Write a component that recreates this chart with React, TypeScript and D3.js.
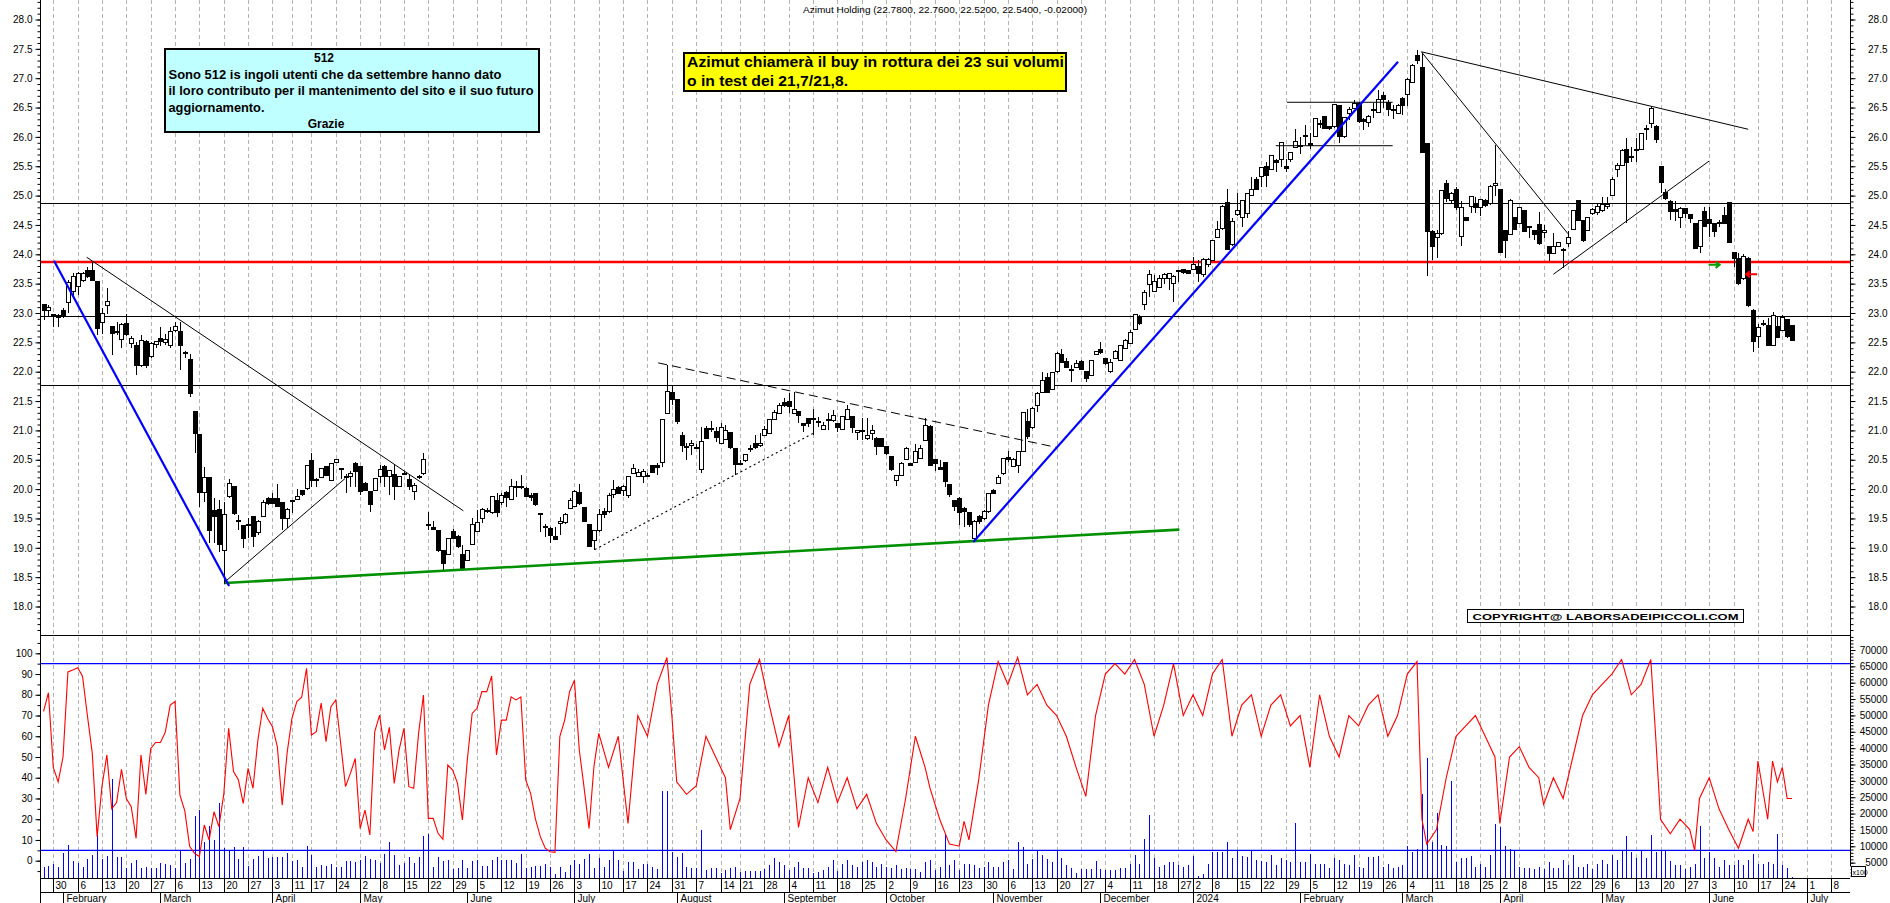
import React, { useRef, useEffect } from 'react';
import * as d3 from 'd3';

const WIDTH = 1890;
const HEIGHT = 903;
const FONT = '"Liberation Sans", Arial, Helvetica, sans-serif';

// trading calendar (Borsa Italiana)
const FIRST_DAY = '2023-01-26';
const FIRST_INDEX = -2; // day index of FIRST_DAY, 30 Jan 2023 = 0
const HOLIDAYS = ['2023-04-07', '2023-04-10', '2023-05-01', '2023-08-15', '2023-12-25', '2023-12-26', '2024-01-01', '2024-03-29', '2024-04-01', '2024-05-01'];
const MONTHS = ['January', 'February', 'March', 'April', 'May', 'June', 'July', 'August', 'September', 'October', 'November', 'December'];

const TITLE = 'Azimut Holding (22.7800, 22.7600, 22.5200, 22.5400, -0.02000)';
const NOTE_TITLE = '512';
const NOTE_LINES = ['Sono 512 is ingoli utenti che da settembre hanno dato', 'il loro contributo per il mantenimento del sito e il suo futuro', 'aggiornamento.'];
const NOTE_SIGN = 'Grazie';
const CALL_LINES = ['Azimut chiamerà il buy in rottura dei 23 sui volumi', 'o in test dei 21,7/21,8.'];
const COPYRIGHT = 'COPYRIGHT@ LABORSADEIPICCOLI.COM';

// daily candles from 26 Jan 2023 to 26 Jun 2024
const OPEN = [
  23.14, 23.04, 22.97, 22.96, 23.04, 23.18, 23.36, 23.45, 23.55, 23.72,
  23.73, 23.53, 22.83, 23.12, 22.77, 22.69, 22.55, 22.82, 22.48, 22.45,
  22.11, 22.51, 22.26, 22.47, 22.56, 22.49, 22.45, 22.71, 22.69, 22.33,
  22.20, 21.33, 20.93, 19.94, 20.19, 19.64, 19.65, 18.96, 19.88, 20.04,
  19.47, 19.38, 19.39, 19.53, 19.26, 19.54, 19.84, 19.84, 19.84, 19.77,
  19.50, 19.80, 19.83, 19.97, 20.01, 20.48, 20.17, 20.20, 20.38, 20.14,
  20.45, 20.35, 20.22, 20.21, 20.44, 20.38, 20.10, 19.96, 19.97, 20.22,
  20.38, 20.22, 20.25, 20.04, 20.27, 20.17, 19.96, 20.21, 20.27, 19.39,
  19.35, 19.30, 18.95, 18.89, 19.28, 19.19, 18.88, 18.79, 19.06, 19.28,
  19.50, 19.64, 19.60, 19.81, 19.78, 19.94, 19.83, 20.04, 20.04, 20.01,
  19.89, 19.93, 19.59, 19.37, 19.33, 19.20, 19.41, 19.43, 19.67, 19.70,
  19.94, 19.68, 19.39, 19.12, 19.30, 19.61, 19.62, 19.90, 20.02, 19.97,
  19.89, 20.27, 20.22, 20.22, 20.24, 20.41, 20.41, 20.45, 21.29, 21.65,
  21.53, 20.92, 20.73, 20.74, 20.71, 20.34, 21.04, 21.03, 20.98, 20.77,
  20.84, 20.96, 20.69, 20.44, 20.48, 20.67, 20.78, 20.74, 20.92, 20.95,
  21.19, 21.29, 21.47, 21.49, 21.29, 21.33, 21.11, 21.21, 21.21, 21.15,
  21.02, 21.18, 21.17, 21.11, 21.02, 21.19, 21.23, 20.96, 20.99, 20.87,
  20.94, 20.87, 20.87, 20.72, 20.56, 20.14, 20.24, 20.51, 20.43, 20.46,
  20.52, 20.83, 21.06, 20.50, 20.37, 20.46, 20.07, 19.81, 19.84, 19.67,
  19.60, 19.16, 19.54, 19.50, 19.61, 19.98, 20.10, 20.27, 20.54, 20.39,
  20.41, 20.64, 21.15, 21.05, 21.43, 21.64, 21.90, 21.70, 22.00, 22.30,
  22.17, 22.04, 22.08, 22.18, 22.00, 21.94, 22.30, 22.37, 22.23, 22.01,
  22.23, 22.19, 22.40, 22.48, 22.72, 22.93, 23.14, 23.49, 23.36, 23.43,
  23.59, 23.59, 23.50, 23.72, 23.74, 23.73, 23.74, 23.79, 23.65, 23.83,
  23.90, 24.29, 24.44, 24.88, 24.17, 24.67, 24.63, 24.70, 25.01, 25.27,
  25.32, 25.49, 25.45, 25.59, 25.62, 25.49, 25.62, 25.82, 25.86, 26.03,
  25.89, 26.01, 26.23, 26.34, 26.17, 26.17, 26.53, 26.00, 26.40, 26.49,
  26.57, 26.29, 26.25, 26.47, 26.41, 26.71, 26.58, 26.46, 26.40, 26.66,
  26.73, 26.93, 27.39, 27.18, 25.89, 24.39, 24.29, 24.35, 25.21, 24.91,
  25.11, 24.30, 24.63, 24.82, 24.86, 24.80, 24.91, 24.87, 25.18, 25.11,
  24.40, 24.33, 24.63, 24.53, 24.75, 24.45, 24.40, 24.50, 24.37, 24.14,
  24.02, 24.14, 24.09, 24.19, 24.42, 24.92, 24.58, 24.41, 24.69, 24.72,
  24.75, 24.82, 25.01, 25.45, 25.52, 25.79, 25.65, 25.79, 25.79, 26.14,
  26.22, 26.17, 25.49, 25.05, 24.90, 24.76, 24.63, 24.78, 24.67, 24.52,
  24.13, 24.73, 24.59, 24.52, 24.54, 24.66, 24.88, 24.03, 23.93, 23.59,
  23.93, 23.05, 22.60, 22.82, 22.79, 22.45, 22.77, 22.71, 22.89, 22.78,
];
const HIGH = [
  23.16, 23.14, 22.98, 22.99, 23.08, 23.56, 23.68, 23.70, 23.70, 23.79,
  23.87, 23.53, 23.08, 23.42, 22.77, 22.85, 22.83, 22.98, 22.60, 22.51,
  22.62, 22.54, 22.50, 22.53, 22.77, 22.65, 22.77, 22.84, 22.85, 22.36,
  22.30, 21.33, 20.93, 20.38, 20.19, 19.84, 19.81, 19.78, 20.18, 20.04,
  19.56, 19.39, 19.50, 19.53, 19.47, 19.81, 19.87, 19.93, 20.08, 19.77,
  19.67, 19.81, 20.01, 19.98, 20.40, 20.62, 20.19, 20.36, 20.40, 20.43,
  20.52, 20.36, 20.25, 20.30, 20.46, 20.38, 20.12, 19.96, 20.18, 20.41,
  20.41, 20.33, 20.41, 20.21, 20.30, 20.24, 20.10, 20.24, 20.61, 19.61,
  19.45, 19.30, 18.96, 19.16, 19.32, 19.22, 19.05, 18.96, 19.50, 19.64,
  19.67, 19.67, 19.88, 19.93, 19.93, 19.96, 20.18, 20.13, 20.24, 20.04,
  19.93, 19.94, 19.60, 19.41, 19.36, 19.36, 19.53, 19.59, 19.84, 19.99,
  20.08, 19.70, 19.41, 19.31, 19.66, 19.67, 19.93, 20.15, 20.05, 20.07,
  20.22, 20.43, 20.35, 20.35, 20.28, 20.41, 20.44, 21.20, 22.11, 21.78,
  21.53, 20.98, 20.78, 20.84, 20.76, 21.06, 21.07, 21.16, 21.05, 21.13,
  21.09, 20.96, 20.69, 20.50, 20.60, 20.75, 20.93, 20.95, 21.08, 21.19,
  21.35, 21.47, 21.56, 21.64, 21.66, 21.33, 21.11, 21.21, 21.36, 21.23,
  21.15, 21.29, 21.35, 21.11, 21.23, 21.43, 21.23, 21.00, 21.21, 21.21,
  21.09, 20.88, 20.87, 20.72, 20.56, 20.24, 20.47, 20.72, 20.45, 20.77,
  20.75, 21.21, 21.09, 20.52, 20.50, 20.47, 20.07, 19.81, 19.87, 19.70,
  19.60, 19.47, 19.56, 19.64, 19.94, 20.01, 20.24, 20.53, 20.65, 20.53,
  20.64, 21.31, 21.37, 21.40, 21.66, 22.00, 21.98, 22.00, 22.34, 22.39,
  22.23, 22.11, 22.20, 22.20, 22.00, 22.20, 22.35, 22.51, 22.23, 22.22,
  22.37, 22.45, 22.55, 22.71, 22.99, 22.96, 23.39, 23.73, 23.65, 23.65,
  23.68, 23.68, 23.65, 23.74, 23.75, 23.74, 23.96, 23.90, 23.93, 23.93,
  24.24, 24.56, 24.84, 25.12, 24.62, 25.05, 24.93, 25.04, 25.32, 25.32,
  25.49, 25.58, 25.69, 25.63, 25.92, 25.63, 25.75, 26.13, 26.00, 26.20,
  26.07, 26.33, 26.29, 26.35, 26.19, 26.56, 26.54, 26.34, 26.51, 26.63,
  26.60, 26.33, 26.37, 26.57, 26.80, 26.77, 26.63, 26.54, 26.56, 26.68,
  27.00, 27.25, 27.48, 27.43, 25.89, 24.42, 24.41, 25.10, 25.26, 25.06,
  25.15, 24.90, 24.64, 25.00, 24.98, 24.94, 24.95, 25.18, 25.86, 25.11,
  24.42, 24.94, 24.64, 24.81, 24.75, 24.49, 24.41, 24.72, 24.50, 24.14,
  24.36, 24.21, 24.10, 24.39, 24.75, 24.92, 24.59, 24.64, 24.79, 24.87,
  24.98, 24.98, 25.32, 25.55, 25.79, 25.98, 25.83, 25.98, 26.06, 26.20,
  26.53, 26.20, 25.49, 25.12, 24.93, 24.90, 24.80, 24.79, 24.68, 24.52,
  24.59, 24.81, 24.81, 24.52, 24.58, 24.81, 24.88, 24.04, 24.03, 24.00,
  23.95, 23.06, 22.82, 22.88, 22.91, 23.02, 22.93, 22.96, 22.90, 22.80,
];
const LOW = [
  22.88, 22.94, 22.77, 22.77, 22.91, 23.00, 23.28, 23.31, 23.53, 23.60,
  23.55, 22.63, 22.65, 22.99, 22.28, 22.63, 22.40, 22.60, 22.40, 21.94,
  22.08, 22.06, 22.23, 22.40, 22.43, 22.45, 22.40, 22.68, 22.03, 22.23,
  21.57, 20.61, 19.70, 19.78, 19.08, 19.08, 18.93, 18.39, 19.84, 19.56,
  19.30, 18.99, 19.16, 19.02, 19.22, 19.53, 19.73, 19.74, 19.70, 19.30,
  19.33, 19.59, 19.82, 19.88, 19.98, 20.04, 20.04, 20.19, 20.23, 20.14,
  20.44, 20.17, 19.93, 20.04, 20.04, 19.90, 19.96, 19.61, 19.96, 20.10,
  20.04, 19.90, 19.82, 20.04, 20.24, 19.98, 19.81, 20.18, 20.24, 19.30,
  19.31, 18.93, 18.62, 18.87, 19.15, 19.00, 18.62, 18.79, 19.06, 19.28,
  19.42, 19.60, 19.58, 19.53, 19.73, 19.70, 19.82, 19.87, 20.01, 19.87,
  19.79, 19.71, 19.27, 19.19, 19.09, 19.13, 19.22, 19.41, 19.66, 19.70,
  19.73, 19.45, 19.02, 18.97, 19.27, 19.50, 19.60, 19.84, 19.91, 19.88,
  19.84, 20.26, 20.21, 20.10, 20.21, 20.27, 20.24, 20.38, 21.29, 21.43,
  21.11, 20.64, 20.50, 20.58, 20.70, 20.28, 20.85, 20.98, 20.81, 20.77,
  20.84, 20.69, 20.24, 20.41, 20.47, 20.64, 20.69, 20.72, 20.92, 20.94,
  21.19, 21.28, 21.40, 21.30, 21.29, 21.12, 20.98, 21.06, 20.92, 21.06,
  21.01, 21.01, 21.15, 20.98, 21.01, 21.17, 20.95, 20.84, 20.83, 20.84,
  20.84, 20.58, 20.72, 20.58, 20.31, 20.05, 20.24, 20.50, 20.40, 20.46,
  20.52, 20.83, 20.41, 20.30, 20.33, 20.04, 19.87, 19.62, 19.39, 19.36,
  19.36, 19.10, 19.41, 19.48, 19.60, 19.92, 20.09, 20.24, 20.47, 20.38,
  20.27, 20.64, 20.86, 21.03, 21.32, 21.64, 21.64, 21.69, 21.97, 22.14,
  22.06, 21.83, 22.06, 22.04, 21.83, 21.93, 22.29, 22.31, 22.11, 21.97,
  22.23, 22.18, 22.38, 22.47, 22.71, 22.79, 23.05, 23.28, 23.35, 23.42,
  23.50, 23.40, 23.19, 23.53, 23.67, 23.66, 23.73, 23.52, 23.62, 23.79,
  23.89, 24.27, 24.41, 24.07, 24.14, 24.66, 24.47, 24.61, 25.00, 25.09,
  25.15, 25.14, 25.44, 25.41, 25.49, 25.41, 25.58, 25.81, 25.71, 25.86,
  25.79, 26.00, 26.15, 26.13, 26.12, 26.16, 25.89, 25.98, 26.29, 26.48,
  26.24, 26.11, 26.17, 26.32, 26.41, 26.49, 26.36, 26.30, 26.39, 26.37,
  26.53, 26.91, 27.25, 25.72, 23.63, 23.90, 23.93, 24.33, 24.89, 24.87,
  24.75, 24.14, 24.57, 24.70, 24.71, 24.65, 24.81, 24.84, 24.99, 24.02,
  23.93, 24.33, 24.42, 24.52, 24.38, 24.27, 24.24, 24.16, 24.27, 23.89,
  24.02, 24.13, 23.76, 24.13, 24.41, 24.57, 24.21, 24.39, 24.67, 24.67,
  24.72, 24.78, 24.99, 25.32, 25.51, 24.53, 25.58, 25.58, 25.78, 25.95,
  26.15, 25.90, 25.04, 24.92, 24.58, 24.56, 24.44, 24.61, 24.53, 24.10,
  24.02, 24.46, 24.30, 24.30, 24.47, 24.52, 24.19, 23.79, 23.48, 23.56,
  23.11, 22.34, 22.40, 22.78, 22.43, 22.44, 22.58, 22.70, 22.58, 22.52,
];
const CLOSE = [
  23.04, 23.10, 22.96, 22.93, 22.94, 23.52, 23.62, 23.68, 23.68, 23.62,
  23.55, 22.74, 23.00, 23.20, 22.65, 22.68, 22.81, 22.63, 22.56, 22.11,
  22.54, 22.11, 22.48, 22.51, 22.51, 22.55, 22.68, 22.77, 22.44, 22.32,
  21.63, 20.95, 19.94, 20.20, 19.30, 19.54, 19.05, 19.57, 20.10, 19.59,
  19.46, 19.16, 19.38, 19.20, 19.44, 19.78, 19.76, 19.76, 19.70, 19.50,
  19.65, 19.79, 19.88, 19.90, 20.40, 20.15, 20.16, 20.35, 20.24, 20.43,
  20.51, 20.35, 20.21, 20.27, 20.30, 19.96, 19.98, 19.73, 20.18, 20.33,
  20.22, 20.31, 20.04, 20.21, 20.27, 20.04, 20.06, 20.21, 20.51, 19.38,
  19.31, 18.96, 18.73, 19.16, 19.15, 19.02, 18.63, 18.96, 19.40, 19.43,
  19.65, 19.64, 19.88, 19.60, 19.89, 19.85, 20.05, 20.04, 20.04, 19.87,
  19.85, 19.73, 19.56, 19.37, 19.21, 19.14, 19.45, 19.57, 19.80, 19.96,
  19.76, 19.45, 19.03, 19.30, 19.57, 19.57, 19.89, 20.00, 19.93, 20.04,
  20.22, 20.35, 20.28, 20.30, 20.24, 20.28, 20.37, 21.19, 21.67, 21.52,
  21.16, 20.74, 20.72, 20.78, 20.71, 20.81, 20.87, 21.02, 20.88, 21.05,
  21.00, 20.71, 20.42, 20.44, 20.59, 20.70, 20.71, 20.78, 21.02, 21.19,
  21.30, 21.43, 21.43, 21.40, 21.36, 21.26, 21.08, 21.12, 21.18, 21.15,
  21.08, 21.18, 21.26, 21.05, 21.23, 21.36, 21.05, 20.99, 20.98, 20.92,
  20.99, 20.72, 20.72, 20.60, 20.34, 20.24, 20.44, 20.70, 20.41, 20.64,
  20.70, 21.08, 20.41, 20.44, 20.34, 20.13, 19.90, 19.70, 19.60, 19.61,
  19.39, 19.44, 19.44, 19.61, 19.93, 19.93, 20.20, 20.52, 20.50, 20.51,
  20.64, 21.30, 20.89, 21.37, 21.63, 21.85, 21.64, 21.98, 22.31, 22.15,
  22.08, 22.03, 22.14, 22.04, 21.89, 22.19, 22.34, 22.33, 22.14, 22.16,
  22.34, 22.45, 22.53, 22.67, 22.98, 22.82, 23.35, 23.66, 23.53, 23.59,
  23.66, 23.67, 23.63, 23.71, 23.69, 23.67, 23.82, 23.67, 23.91, 23.91,
  24.23, 24.42, 24.82, 24.09, 24.56, 24.75, 24.92, 25.03, 25.11, 25.10,
  25.48, 25.34, 25.68, 25.57, 25.90, 25.46, 25.73, 25.92, 25.83, 26.00,
  25.86, 26.32, 26.22, 26.15, 26.14, 26.55, 26.01, 26.33, 26.46, 26.57,
  26.26, 26.26, 26.34, 26.45, 26.63, 26.63, 26.46, 26.45, 26.54, 26.54,
  26.98, 27.21, 27.31, 25.73, 24.39, 24.13, 24.36, 25.09, 24.95, 25.04,
  24.80, 24.80, 24.58, 24.98, 24.79, 24.94, 24.83, 25.16, 25.21, 24.03,
  24.24, 24.92, 24.43, 24.80, 24.39, 24.48, 24.33, 24.19, 24.41, 24.02,
  24.14, 24.20, 24.06, 24.29, 24.75, 24.58, 24.23, 24.63, 24.77, 24.81,
  24.84, 24.85, 25.28, 25.52, 25.76, 25.56, 25.67, 25.76, 26.05, 26.12,
  26.49, 25.95, 25.22, 24.95, 24.73, 24.73, 24.78, 24.69, 24.61, 24.10,
  24.58, 24.47, 24.53, 24.39, 24.54, 24.53, 24.20, 23.93, 23.50, 23.96,
  23.12, 22.51, 22.76, 22.82, 22.44, 22.95, 22.59, 22.93, 22.60, 22.54,
];
// volume, in hundreds of shares
const VOLUME = [
  3780, 4090, 4600, 3780, 8070, 10400, 5600, 4800, 3780, 6140,
  7360, 13500, 6140, 7060, 30560, 6650, 6650, 3270, 5010, 5830,
  3480, 3780, 3270, 3270, 5010, 4500, 4190, 3480, 8900, 5010,
  6030, 19120, 21160, 11440, 16350, 11960, 23200, 9400, 8580, 9920,
  6240, 9710, 4090, 6240, 7160, 8900, 6440, 6850, 6750, 6650,
  8080, 5420, 5730, 3780, 10120, 7360, 3780, 4290, 4090, 4600,
  3580, 3780, 5520, 5520, 5220, 5830, 7060, 6140, 5830, 5010,
  7670, 11440, 7360, 4290, 5010, 6750, 5010, 6650, 13290, 13900,
  3780, 6650, 5420, 5730, 3070, 3270, 5730, 3480, 5420, 5730,
  3990, 4090, 5730, 6650, 5830, 5730, 5730, 5010, 7570, 3270,
  3780, 4090, 3990, 4700, 3580, 1430, 3780, 2250, 4290, 5830,
  4600, 6240, 7570, 3270, 6340, 3780, 5830, 8690, 5830, 2560,
  5320, 5320, 3070, 4600, 4700, 3580, 2970, 26790, 27000, 8380,
  6850, 8080, 3580, 3270, 3270, 15030, 2760, 3270, 3270, 1940,
  2760, 3270, 3780, 2250, 2450, 2560, 2450, 2450, 3000, 4190,
  6340, 5220, 4190, 2760, 3580, 5320, 3270, 3270, 1940, 2250,
  2760, 3680, 5730, 2560, 4600, 5830, 4400, 3580, 5320, 5830,
  5320, 3580, 4600, 3580, 3270, 4190, 2970, 3270, 2970, 2970,
  2250, 5320, 5830, 2760, 3580, 13800, 4400, 5730, 2760, 4500,
  4500, 4300, 3270, 3580, 5320, 3580, 3580, 5320, 5830, 2970,
  11230, 9900, 4600, 6140, 8490, 7260, 6140, 5220, 9000, 6340,
  4400, 3270, 1940, 2970, 2970, 2970, 5630, 2970, 2760, 2760,
  2760, 3270, 3270, 4500, 7260, 4600, 12170, 19630, 6340, 3580,
  4190, 5320, 5320, 4190, 3580, 4400, 7160, 1000, 1500, 4600,
  8380, 8380, 8380, 11430, 6540, 9000, 7160, 6850, 8690, 5730,
  5630, 5320, 7260, 4400, 6340, 5830, 5320, 17270, 5320, 5320,
  7670, 4500, 4700, 4700, 3270, 6340, 5830, 4700, 4190, 7260,
  3580, 3270, 6650, 6650, 7160, 3580, 4700, 3270, 3580, 4400,
  10240, 8180, 9200, 26000, 37000, 11230, 20140, 10430, 10120, 30000,
  5320, 6340, 6340, 7160, 3580, 4500, 3580, 7260, 16870, 16000,
  10240, 9200, 8490, 3580, 3270, 3270, 2970, 3580, 2970, 5320,
  3270, 3270, 5830, 4190, 7260, 3580, 3580, 4700, 2970, 4600,
  5730, 4500, 7260, 5830, 8690, 13190, 8180, 6340, 8900, 6340,
  13490, 8180, 8490, 8490, 5630, 4400, 4190, 2970, 3580, 4500,
  16260, 6340, 8180, 6340, 3580, 5830, 4400, 4400, 5830, 4400,
  5830, 7670, 4700, 4700, 5320, 4700, 13800, 4400, 3270, 510,
];
// oscillator: [day index, value]
const OSCILLATOR: [number, number][] = [
  [-2, 72], [-1, 81], [0, 45], [1, 38], [2, 50], [3, 91], [4, 92], [5, 93], [6, 89], [7, 70],
  [8, 52], [9, 11.6], [10, 36], [11, 51], [12, 25], [13, 28], [14, 44], [15, 30], [16, 26], [17, 10.8],
  [18, 51], [19, 32], [20, 54], [21, 57], [22, 57], [23, 62], [24, 75], [25, 76.7], [26, 31.6], [27, 24],
  [28, 6.8], [29, 3.5], [30, 2], [31, 17.2], [32, 10], [33, 23.6], [34, 16.4], [35, 32], [36, 63.8], [37, 43],
  [38, 39], [39, 27.6], [40, 44.5], [41, 34.9], [42, 58], [43, 73.5], [44, 68.6], [45, 64.6], [46, 55], [47, 26.8],
  [48, 51.8], [49, 68.6], [50, 76.7], [51, 78.8], [52, 92.7], [53, 60.6], [54, 62.2], [55, 76], [56, 57.4], [57, 74.3],
  [58, 77.5], [59, 56.6], [60, 35.7], [61, 42.1], [62, 49.3], [63, 15.6], [64, 24.4], [65, 12.4], [66, 62.2], [67, 70.2],
  [68, 53.4], [69, 64.3], [70, 37.3], [71, 53.4], [72, 63.8], [73, 35.7], [74, 34.9], [75, 61.4], [76, 79.9], [77, 20.4],
  [78, 20.4], [79, 13.2], [80, 10.3], [81, 46.1], [82, 43.7], [83, 37.3], [84, 19.6], [85, 48.5], [86, 71], [87, 73.5],
  [88, 81.5], [89, 81.5], [90, 89], [91, 51], [92, 67.8], [93, 67.8], [94, 79], [95, 77.5], [96, 79], [97, 39],
  [98, 32.5], [99, 20], [100, 11.6], [101, 6], [102, 4.3], [103, 4], [104, 59.8], [105, 67.8], [106, 81.5], [107, 87],
  [108, 53.4], [109, 34.9], [110, 15.6], [111, 45.3], [112, 61.4],
  [114, 45], [116, 60], [118, 18], [120, 70], [122, 60], [124, 85], [126, 98], [127, 70], [128, 38], [130, 32],
  [132, 36], [134, 60], [136, 50], [138, 40], [139, 15], [141, 30], [143, 85], [145, 97], [147, 75], [149, 55],
  [151, 70], [153, 16], [155, 40], [157, 28], [159, 45], [161, 28], [163, 40], [165, 25], [167, 32], [169, 18],
  [171, 10], [173, 4.4], [175, 30], [177, 60], [179, 45], [180, 35], [182, 20], [184, 8], [186, 7], [187, 19],
  [188, 10], [190, 39], [192, 75], [194, 96], [196, 85], [198, 98], [200, 80], [202, 85], [204, 75], [206, 70],
  [208, 60], [210, 45], [212, 31], [214, 70], [216, 90], [218, 95], [220, 90], [222, 97], [224, 85], [226, 60],
  [228, 75], [230, 95], [232, 70], [234, 80], [236, 70], [238, 90], [240, 97], [242, 60], [244, 75], [246, 80],
  [248, 60], [250, 75], [252, 80], [254, 65], [256, 70], [258, 45], [260, 80], [262, 60], [264, 50], [266, 70],
  [268, 65], [270, 75], [272, 80], [274, 60], [276, 70], [278, 90], [280, 96], [281, 20], [282, 8], [284, 15],
  [286, 40], [288, 60], [290, 65], [292, 70], [294, 60], [296, 50], [297, 18], [299, 50], [301, 55], [303, 45],
  [305, 40], [306, 27], [308, 40], [310, 30], [312, 50], [314, 70], [316, 80], [318, 85], [320, 90], [322, 97],
  [324, 80], [326, 85], [328, 97], [329, 60], [330, 20], [332, 13], [334, 20], [336, 15], [337, 5], [338, 30],
  [340, 40], [342, 25], [344, 15], [346, 6], [348, 20], [349, 14], [350, 48], [352, 20], [353, 48], [354, 38],
  [355, 45], [356, 30], [357, 30],
];

// support / resistance levels
const RED_LEVEL = 23.87;
const BLACK_LEVELS = [24.88, 22.95, 21.77];
const OSC_LEVELS = [95, 5];

// drawn lines: [fromDay, fromPrice, toDay, toPrice]
const BLUE_LINES = [[0.14, 23.89, 36.1, 18.35], [188.9, 19.1, 276.1, 27.28]];
const GREEN_LINES = [[35.25, 18.4, 231.2, 19.31]];
const THIN_LINES = [
  [6.86, 23.95, 84.2, 19.63],
  [35.25, 18.42, 59.9, 20.18],
  [253.3, 26.59, 275, 26.59],
  [251, 25.85, 275, 25.85],
  [280.9, 27.45, 348, 26.13],
  [280.9, 27.45, 311, 24.35],
  [308, 23.66, 340, 25.59],
];
const DASHED_LINES = [[124.2, 22.15, 206, 20.71]];
const DOTTED_LINES = [[111.2, 18.97, 156, 20.95]];
const GREEN_ARROW = [341.1, 23.82];
const RED_ARROW = [348.6, 23.66];

function buildCalendar(count: number) {
  const out: Date[] = [];
  const d = new Date(FIRST_DAY + 'T12:00:00Z');
  while (out.length < count) {
    const wd = d.getUTCDay();
    const key = d.toISOString().slice(0, 10);
    if (wd > 0 && wd < 6 && HOLIDAYS.indexOf(key) < 0) out.push(new Date(d.getTime()));
    d.setUTCDate(d.getUTCDate() + 1);
  }
  return out;
}

const App: React.FC = () => {
  const svgRef = useRef<SVGSVGElement>(null);

  useEffect(() => {
    if (!svgRef.current) return;
    const svg = d3.select(svgRef.current);
    svg.selectAll('*').remove();

    const left = 40, right = 1850;
    const panelSplit = 635, oscBottom = 878, dayRowBottom = 892;

    const x = d3.scaleLinear().domain([-2.73, 368.9]).range([left, right]);
    const y = d3.scaleLinear().domain([18, 28]).range([606.5, 19.5]);
    const yo = d3.scaleLinear().domain([0, 100]).range([860.7, 653.3]);
    const yv = d3.scaleLinear().domain([0, 70000]).range([879, 650]);
    const px = (i: number) => Math.round(x(i)) + 0.5;

    svg.append('rect').attr('width', WIDTH).attr('height', HEIGHT).attr('fill', '#ffffff');

    // calendar ticks
    const cal = buildCalendar(380);
    const weekStarts: { i: number; d: Date }[] = [];
    const monthStarts: { i: number; d: Date }[] = [];
    cal.forEach((d, k) => {
      if (k === 0) return;
      const i = k + FIRST_INDEX;
      if (x(i) > right - 3) return;
      const prev = cal[k - 1];
      if (d.getUTCDay() <= prev.getUTCDay()) weekStarts.push({ i, d });
      if (d.getUTCMonth() !== prev.getUTCMonth()) monthStarts.push({ i, d });
    });

    // vertical dashed grid
    svg.append('g').selectAll('line').data(weekStarts).join('line')
      .attr('x1', d => px(d.i)).attr('x2', d => px(d.i))
      .attr('y1', 0).attr('y2', oscBottom)
      .attr('stroke', '#b4b4b4').attr('stroke-width', 1)
      .attr('stroke-dasharray', '4,3');

    // horizontal levels
    svg.append('g').selectAll('line').data(BLACK_LEVELS).join('line')
      .attr('x1', left).attr('x2', right)
      .attr('y1', d => Math.round(y(d)) + 0.5).attr('y2', d => Math.round(y(d)) + 0.5)
      .attr('stroke', '#000').attr('stroke-width', 1.2);
    svg.append('line')
      .attr('x1', left).attr('x2', right)
      .attr('y1', y(RED_LEVEL)).attr('y2', y(RED_LEVEL))
      .attr('stroke', '#ff0000').attr('stroke-width', 2.6);

    // candles
    const candles = svg.append('g').attr('shape-rendering', 'crispEdges');
    const idx = d3.range(OPEN.length);
    candles.selectAll('line').data(idx).join('line')
      .attr('x1', k => px(k + FIRST_INDEX)).attr('x2', k => px(k + FIRST_INDEX))
      .attr('y1', k => y(HIGH[k])).attr('y2', k => y(LOW[k]))
      .attr('stroke', '#000').attr('stroke-width', 1);
    candles.selectAll('rect').data(idx).join('rect')
      .attr('x', k => Math.round(x(k + FIRST_INDEX)) - 1.5)
      .attr('y', k => y(Math.max(OPEN[k], CLOSE[k])))
      .attr('width', 4)
      .attr('height', k => Math.max(1, Math.abs(y(OPEN[k]) - y(CLOSE[k]))))
      .attr('fill', k => (CLOSE[k] < OPEN[k] ? '#000' : '#fff'))
      .attr('stroke', '#000').attr('stroke-width', 1);

    // drawn trend lines
    const drawLines = (lines: number[][], color: string, width: number, dash?: string) => {
      const sel = svg.append('g').selectAll('line').data(lines).join('line')
        .attr('x1', d => x(d[0])).attr('y1', d => y(d[1]))
        .attr('x2', d => x(d[2])).attr('y2', d => y(d[3]))
        .attr('stroke', color).attr('stroke-width', width);
      if (dash) sel.attr('stroke-dasharray', dash);
    };
    drawLines(THIN_LINES, '#000', 1);
    drawLines(DASHED_LINES, '#000', 1, '9,5');
    drawLines(DOTTED_LINES, '#000', 1.1, '2,3');
    drawLines(GREEN_LINES, '#009000', 2.6);
    drawLines(BLUE_LINES, '#0000ff', 2.2);

    // small arrows
    const ga = [x(GREEN_ARROW[0]), y(GREEN_ARROW[1])];
    svg.append('path')
      .attr('d', `M${ga[0] - 6},${ga[1]} L${ga[0] + 4},${ga[1]} M${ga[0] + 1},${ga[1] - 3} L${ga[0] + 5},${ga[1]} L${ga[0] + 1},${ga[1] + 3}`)
      .attr('stroke', '#00a000').attr('stroke-width', 2).attr('fill', 'none');
    const ra = [x(RED_ARROW[0]), y(RED_ARROW[1])];
    svg.append('path')
      .attr('d', `M${ra[0] + 6},${ra[1]} L${ra[0] - 4},${ra[1]} M${ra[0] - 1},${ra[1] - 3} L${ra[0] - 5},${ra[1]} L${ra[0] - 1},${ra[1] + 3}`)
      .attr('stroke', '#ff0000').attr('stroke-width', 2).attr('fill', 'none');

    // lower panel: volume bars
    svg.append('g').attr('shape-rendering', 'crispEdges').selectAll('line').data(VOLUME).join('line')
      .attr('x1', (v, k) => px(k + FIRST_INDEX)).attr('x2', (v, k) => px(k + FIRST_INDEX))
      .attr('y1', yv(0)).attr('y2', v => yv(v))
      .attr('stroke', '#0000ff').attr('stroke-width', 1);
    svg.append('g').selectAll('line').data(OSC_LEVELS).join('line')
      .attr('x1', left).attr('x2', right)
      .attr('y1', d => yo(d)).attr('y2', d => yo(d))
      .attr('stroke', '#0000ff').attr('stroke-width', 1.3);
    svg.append('path')
      .datum(OSCILLATOR)
      .attr('d', d3.line<[number, number]>().x(d => x(d[0])).y(d => yo(d[1])))
      .attr('fill', 'none').attr('stroke', '#ff0000').attr('stroke-width', 1.1);

    // frame
    const frame = svg.append('g').attr('stroke', '#000').attr('stroke-width', 1).attr('shape-rendering', 'crispEdges');
    frame.append('line').attr('x1', left + 0.5).attr('x2', left + 0.5).attr('y1', 0).attr('y2', HEIGHT);
    frame.append('line').attr('x1', right + 0.5).attr('x2', right + 0.5).attr('y1', 0).attr('y2', 866);
    [panelSplit, oscBottom, dayRowBottom].forEach(v => {
      frame.append('line').attr('x1', left).attr('x2', right).attr('y1', v + 0.5).attr('y2', v + 0.5);
    });

    // axes
    const styleAxis = (g: d3.Selection<SVGGElement, unknown, null, undefined>) => {
      g.select('.domain').remove();
      g.attr('font-family', FONT).attr('font-size', 10);
      g.selectAll('line').attr('stroke', '#000');
      g.selectAll('text').attr('fill', '#000');
    };
    const priceMajor = d3.range(18, 28.01, 0.5);
    const priceMinor = d3.range(17.6, 28.34, 0.1).filter(v => y(v) > 1 && y(v) < panelSplit - 1);
    const oscMajor = d3.range(0, 100.1, 10);
    const oscMinor = d3.range(-5, 106, 5);
    const volMajor = d3.range(5000, 70001, 5000);
    const volMinor = d3.range(1000, 74001, 1000).filter(v => yv(v) > panelSplit + 1);

    const addAxis = (axis: d3.Axis<d3.NumberValue>, tx: number, anchorEnd: boolean, labelX?: number) => {
      const g = svg.append('g').attr('transform', `translate(${tx + 0.5},0)`).call(axis);
      styleAxis(g);
      if (labelX !== undefined) g.selectAll('text').attr('x', labelX).attr('text-anchor', anchorEnd ? 'end' : 'start');
      return g;
    };
    addAxis(d3.axisLeft(y).tickValues(priceMinor).tickSize(3).tickFormat(() => ''), left, true);
    addAxis(d3.axisLeft(y).tickValues(priceMajor).tickSize(5).tickPadding(3).tickFormat(d3.format('.1f')), left, true);
    addAxis(d3.axisRight(y).tickValues(priceMinor).tickSize(3).tickFormat(() => ''), right, false);
    addAxis(d3.axisRight(y).tickValues(priceMajor).tickSize(5).tickFormat(d3.format('.1f')), right, true, 37);
    addAxis(d3.axisLeft(yo).tickValues(oscMinor).tickSize(3).tickFormat(() => ''), left, true);
    addAxis(d3.axisLeft(yo).tickValues(oscMajor).tickSize(5).tickPadding(3).tickFormat(d3.format('d')), left, true);
    addAxis(d3.axisRight(yv).tickValues(volMinor).tickSize(3).tickFormat(() => ''), right, false);
    addAxis(d3.axisRight(yv).tickValues(volMajor).tickSize(5).tickFormat(d3.format('d')), right, true, 37);

    // x100 marker
    svg.append('rect').attr('x', 1851.5).attr('y', 866.5).attr('width', 14).attr('height', 10)
      .attr('fill', '#fff').attr('stroke', '#000').attr('stroke-width', 1);
    svg.append('text').attr('x', 1852.5).attr('y', 874.5).attr('font-family', FONT).attr('font-size', 7)
      .attr('fill', '#000').text('x100');

    // date rows
    const dates = svg.append('g').attr('font-family', FONT).attr('font-size', 10).attr('fill', '#000');
    dates.selectAll('line.w').data(weekStarts).join('line')
      .attr('x1', d => px(d.i)).attr('x2', d => px(d.i))
      .attr('y1', oscBottom).attr('y2', dayRowBottom)
      .attr('stroke', '#000').attr('shape-rendering', 'crispEdges');
    dates.selectAll('text.w').data(weekStarts).join('text')
      .attr('x', d => px(d.i) + 2).attr('y', 889)
      .text(d => String(d.d.getUTCDate()));
    dates.selectAll('line.m').data(monthStarts).join('line')
      .attr('x1', d => px(d.i)).attr('x2', d => px(d.i))
      .attr('y1', dayRowBottom).attr('y2', HEIGHT)
      .attr('stroke', '#000').attr('shape-rendering', 'crispEdges');
    dates.selectAll('text.m').data(monthStarts).join('text')
      .attr('x', d => px(d.i) + 3).attr('y', 902)
      .text(d => (d.d.getUTCMonth() === 0 ? String(d.d.getUTCFullYear()) : MONTHS[d.d.getUTCMonth()]));

    // title
    svg.append('text').attr('x', 945).attr('y', 12.5).attr('text-anchor', 'middle')
      .attr('font-family', FONT).attr('font-size', 9.5).attr('fill', '#000')
      .attr('textLength', 284).attr('lengthAdjust', 'spacingAndGlyphs').text(TITLE);

    // note box
    const note = svg.append('g').attr('font-family', FONT).attr('font-weight', 'bold').attr('font-size', 12).attr('fill', '#000');
    note.append('rect').attr('x', 165).attr('y', 49).attr('width', 374).attr('height', 83)
      .attr('fill', '#c0ffff').attr('stroke', '#000').attr('stroke-width', 2);
    note.append('text').attr('x', 324).attr('y', 61.5).attr('text-anchor', 'middle').text(NOTE_TITLE);
    const noteWidths = [333, 365, 96];
    NOTE_LINES.forEach((t, j) => {
      note.append('text').attr('x', 168.5).attr('y', 78.5 + j * 16.5)
        .attr('textLength', noteWidths[j]).attr('lengthAdjust', 'spacingAndGlyphs').text(t);
    });
    note.append('text').attr('x', 326).attr('y', 128).attr('text-anchor', 'middle').text(NOTE_SIGN);

    // call box
    const call = svg.append('g').attr('font-family', FONT).attr('font-weight', 'bold').attr('font-size', 14).attr('fill', '#000');
    call.append('rect').attr('x', 684).attr('y', 53).attr('width', 382).attr('height', 38)
      .attr('fill', '#ffff00').attr('stroke', '#000').attr('stroke-width', 2);
    const callWidths = [377, 161];
    CALL_LINES.forEach((t, j) => {
      call.append('text').attr('x', 687).attr('y', 66.5 + j * 19.5)
        .attr('textLength', callWidths[j]).attr('lengthAdjust', 'spacingAndGlyphs').text(t);
    });

    // copyright
    svg.append('rect').attr('x', 1467.5).attr('y', 609.5).attr('width', 276).attr('height', 13)
      .attr('fill', '#fff').attr('stroke', '#000').attr('stroke-width', 1);
    svg.append('text').attr('x', 1605.5).attr('y', 619.5).attr('text-anchor', 'middle')
      .attr('font-family', FONT).attr('font-weight', 'bold').attr('font-size', 9.5).attr('fill', '#000')
      .attr('textLength', 266).attr('lengthAdjust', 'spacingAndGlyphs').text(COPYRIGHT);
  }, []);

  return (
    <svg
      ref={svgRef}
      width={WIDTH}
      height={HEIGHT}
      style={{ position: 'absolute', left: 0, top: 0, display: 'block' }}
    />
  );
};

export default App;
